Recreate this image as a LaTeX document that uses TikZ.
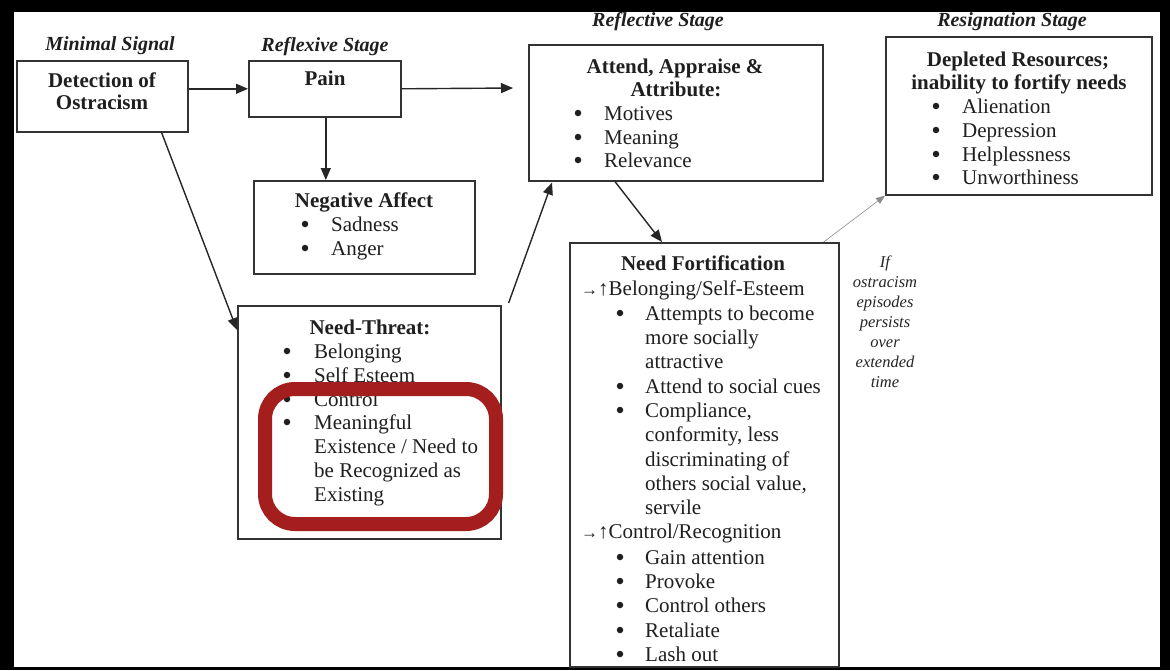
\documentclass[tikz,border=0pt]{standalone}
\usepackage{fontspec}
\setmainfont{Liberation Serif}
\usetikzlibrary{arrows.meta}
\definecolor{hlred}{RGB}{163,30,29}
\tikzset{
	box/.style={draw=black!80, line width=1.6pt, anchor=north west, inner sep=0pt},
	txt/.style={anchor=base west, inner sep=0pt, font=\fontsize{21}{24}\selectfont, text=black!88},
	dot/.style={circle, fill=black!88, inner sep=0pt, minimum size=6.5pt},
	ttl/.style={anchor=base, inner sep=0pt, font=\bfseries\fontsize{21}{24}\selectfont, text=black!88},
	stage/.style={anchor=base, inner sep=0pt, font=\bfseries\itshape\fontsize{20}{24}\selectfont, text=black!88},
	note/.style={anchor=base, inner sep=0pt, font=\itshape\fontsize{16.5}{20}\selectfont, text=black!85},
	arr/.style={-{Triangle[length=12pt,width=10pt]}, line width=1.4pt, black!85},
	thin arr/.style={-{Triangle[length=9pt,width=7pt]}, line width=0.6pt, black!45},
}

\begin{document}
\begin{tikzpicture}[x=1pt, y=-1pt]
			%%%%% START %%%%%
			
			\fill[black] (0, 0) rectangle (1170, 670);
			\fill[white] (14, 12) rectangle (1160, 667);
			
			% stage labels
			\node[stage] (lmin) at (110, 50) {Minimal Signal};
			\node[stage] (lrefx) at (325, 51) {Reflexive Stage};
			\node[stage] (lrefl) at (658, 26) {Reflective Stage};
			\node[stage] (lres) at (1012, 26) {Resignation Stage};
			
			% boxes
			\node[box, minimum width=171pt, minimum height=71pt] (det) at (16, 60) {};
			\node[box, minimum width=152pt, minimum height=56pt] (pain) at (248, 60) {};
			\node[box, minimum width=221pt, minimum height=93pt] (neg) at (253, 180) {};
			\node[box, minimum width=263pt, minimum height=233pt] (thr) at (237, 305) {};
			\node[box, minimum width=294pt, minimum height=136pt] (att) at (528, 44) {};
			\node[box, minimum width=266pt, minimum height=158pt] (dep) at (885, 36) {};
			\node[box, minimum width=269pt, minimum height=424pt] (nf) at (569, 242) {};
			
			% Detection of Ostracism
			\node[ttl] (det1) at (102, 87) {Detection of};
			\node[ttl] (det2) at (102, 109) {Ostracism};
			
			% Pain
			\node[ttl] (pain1) at (325, 85) {Pain};
			
			% Negative Affect
			\node[ttl] (neg0) at (364, 207) {Negative Affect};
			\node[dot] (negb1) at (305, 224) {};
			\node[txt] (neg1) at (331, 231) {Sadness};
			\node[dot] (negb2) at (305, 248) {};
			\node[txt] (neg2) at (331, 255) {Anger};
			
			% Need-Threat
			\node[ttl] (thr0) at (370, 334) {Need-Threat:};
			\node[dot] (thrb1) at (287, 351) {};
			\node[txt] (thr1) at (314, 358) {Belonging};
			\node[dot] (thrb2) at (287, 375) {};
			\node[txt] (thr2) at (314, 382) {Self Esteem};
			\node[dot] (thrb3) at (287, 399) {};
			\node[txt] (thr3) at (314, 406) {Control};
			\node[dot] (thrb4) at (287, 422) {};
			\node[txt] (thr4) at (314, 429) {Meaningful};
			\node[txt] (thr5) at (314, 453) {Existence / Need to};
			\node[txt] (thr6) at (314, 477) {be Recognized as};
			\node[txt] (thr7) at (314, 501) {Existing};
			
			% Attend, Appraise & Attribute
			\node[ttl] (att0) at (675, 73) {Attend, Appraise \&};
			\node[ttl] (att1) at (676, 96) {Attribute:};
			\node[dot] (attb2) at (578, 113) {};
			\node[txt] (att2) at (604, 120) {Motives};
			\node[dot] (attb3) at (578, 137) {};
			\node[txt] (att3) at (604, 144) {Meaning};
			\node[dot] (attb4) at (578, 160) {};
			\node[txt] (att4) at (604, 167) {Relevance};
			
			% Depleted Resources
			\node[ttl] (dep0) at (1018, 66) {Depleted Resources;};
			\node[ttl] (dep1) at (1019, 89) {inability to fortify needs};
			\node[dot] (depb2) at (936, 106) {};
			\node[txt] (dep2) at (962, 113) {Alienation};
			\node[dot] (depb3) at (936, 130) {};
			\node[txt] (dep3) at (962, 137) {Depression};
			\node[dot] (depb4) at (936, 154) {};
			\node[txt] (dep4) at (962, 161) {Helplessness};
			\node[dot] (depb5) at (936, 177) {};
			\node[txt] (dep5) at (962, 184) {Unworthiness};
			
			% Need Fortification
			\node[ttl] (nf0) at (703, 270) {Need Fortification};
			\node[txt] (nf1) at (581, 295) {{\fontsize{17}{17}\selectfont →}↑Belonging/Self-Esteem};
			\node[dot] (nfb2) at (620, 313) {};
			\node[txt] (nf2) at (645, 320) {Attempts to become};
			\node[txt] (nf3) at (645, 344) {more socially};
			\node[txt] (nf4) at (645, 368) {attractive};
			\node[dot] (nfb5) at (620, 386) {};
			\node[txt] (nf5) at (645, 393) {Attend to social cues};
			\node[dot] (nfb6) at (620, 410) {};
			\node[txt] (nf6) at (645, 417) {Compliance,};
			\node[txt] (nf7) at (645, 441) {conformity, less};
			\node[txt] (nf8) at (645, 466) {discriminating of};
			\node[txt] (nf9) at (645, 490) {others social value,};
			\node[txt] (nf10) at (645, 514) {servile};
			\node[txt] (nf11) at (581, 538) {{\fontsize{17}{17}\selectfont →}↑Control/Recognition};
			\node[dot] (nfb12) at (620, 557) {};
			\node[txt] (nf12) at (645, 564) {Gain attention};
			\node[dot] (nfb13) at (620, 581) {};
			\node[txt] (nf13) at (645, 588) {Provoke};
			\node[dot] (nfb14) at (620, 605) {};
			\node[txt] (nf14) at (645, 612) {Control others};
			\node[dot] (nfb15) at (620, 630) {};
			\node[txt] (nf15) at (645, 637) {Retaliate};
			\node[dot] (nfb16) at (620, 654) {};
			\node[txt] (nf16) at (645, 661) {Lash out};
			
			% side note
			\node[note] (n1) at (885, 267) {If};
			\node[note] (n2) at (885, 287) {ostracism};
			\node[note] (n3) at (885, 307) {episodes};
			\node[note] (n4) at (885, 327) {persists};
			\node[note] (n5) at (885, 347) {over};
			\node[note] (n6) at (885, 367) {extended};
			\node[note] (n7) at (885, 387) {time};
			
			% connectors
			\coordinate (gap) at (513, 88);
			\draw[arr] (det.east |- pain.west) -- (pain.west);
			\draw[arr] (pain.east) -- (gap);
			\draw[arr] ([xshift=1pt]pain.south) -- ([xshift=1pt]pain.south |- neg.north);
			\draw[arr] ([xshift=-27pt]det.south east) -- ([yshift=-25pt]thr.north west);
			\draw[arr] ([xshift=7pt, yshift=2pt]thr.north east) -- ([xshift=24pt, yshift=-1pt]att.south west);
			\draw[arr] ([xshift=87pt]att.south west) -- ([xshift=93pt]nf.north west);
			\draw[thin arr] ([xshift=-16pt]nf.north east) -- (dep.south west);
			
			% highlight
			\draw[hlred, line width=14pt, rounded corners=30pt] (265, 389) rectangle (496, 524);
			
			%%%%% END %%%%%
\end{tikzpicture}
\end{document}
